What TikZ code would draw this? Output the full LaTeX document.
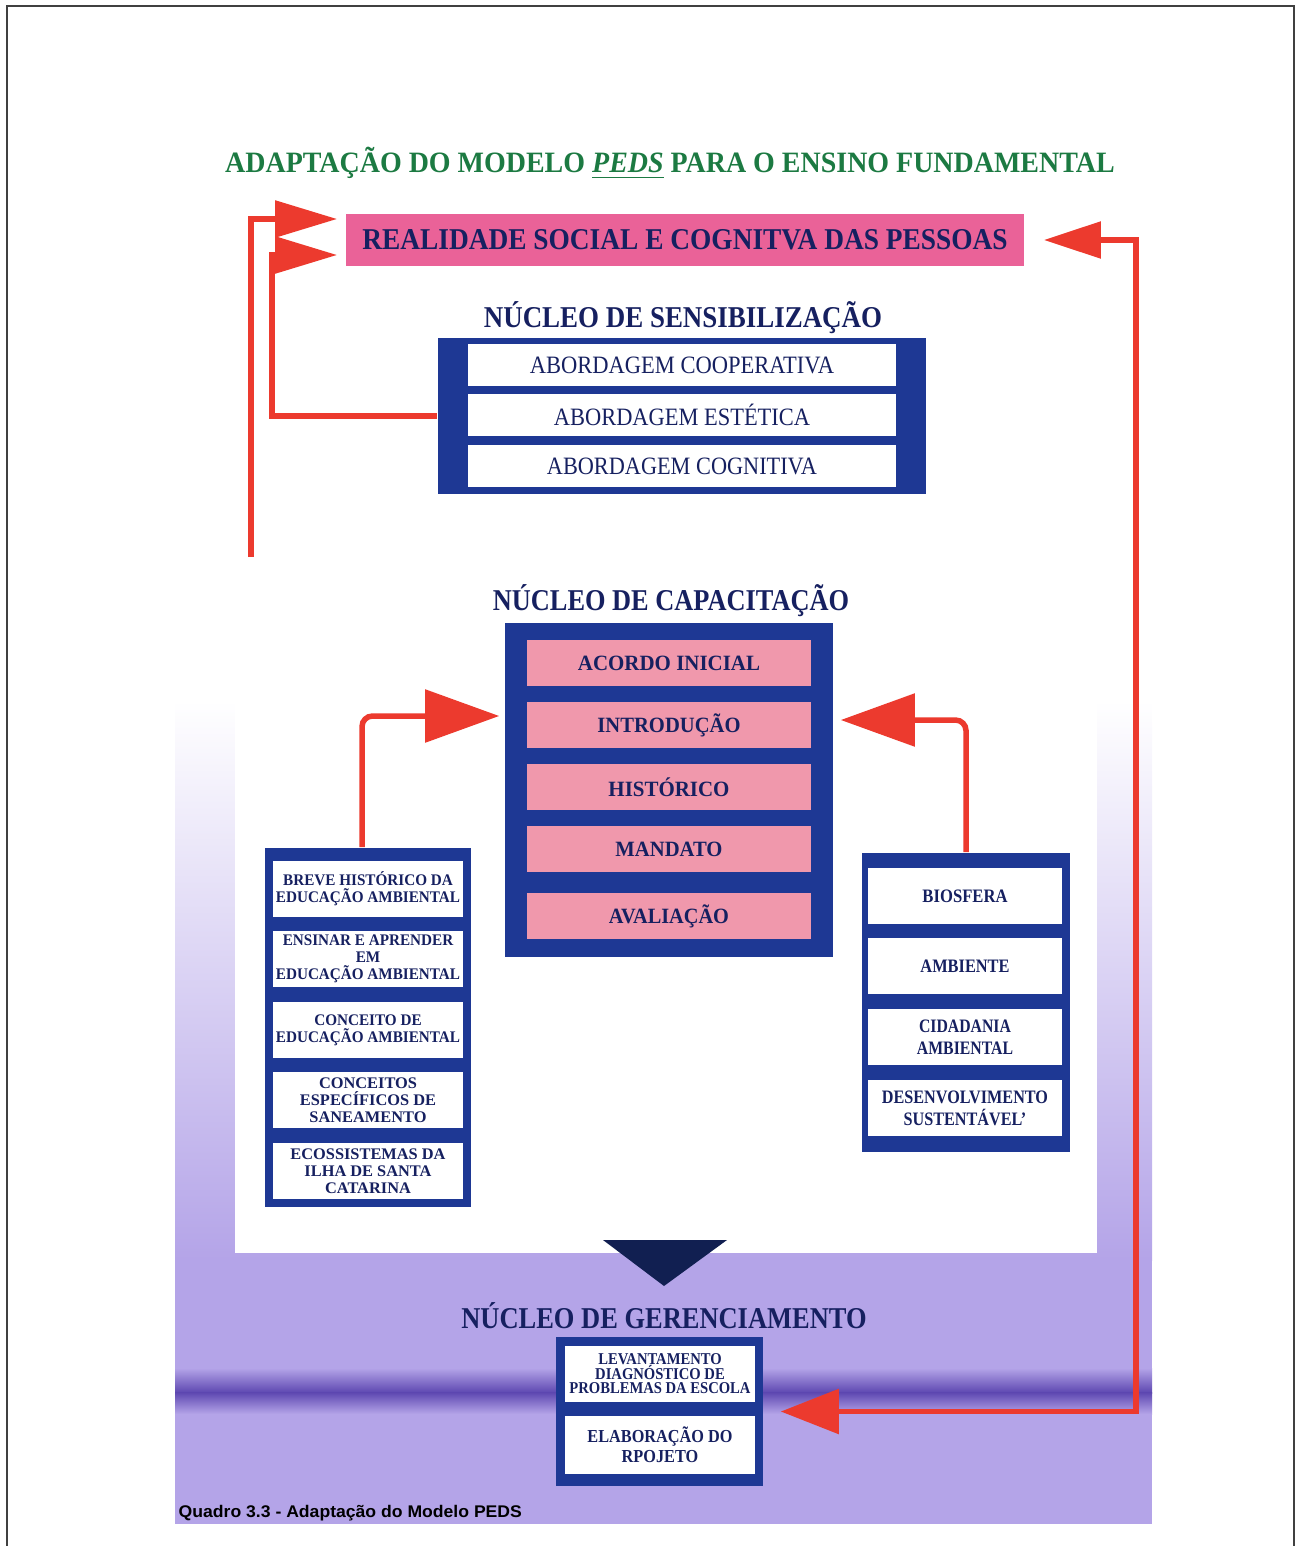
\documentclass[tikz,border=0pt]{standalone}
\usepackage{fontspec}
\setmainfont{Liberation Serif}
\newfontfamily\legendafont{Liberation Sans}
\usetikzlibrary{arrows.meta}

\definecolor{azul}{RGB}{30,56,148}
\definecolor{tinta}{RGB}{22,32,96}
\definecolor{verde}{RGB}{28,122,66}
\definecolor{rosa}{RGB}{234,98,152}
\definecolor{rosaclaro}{RGB}{240,152,172}
\definecolor{vermelho}{RGB}{236,58,46}
\definecolor{lilas}{RGB}{180,164,232}
\definecolor{faixaesc}{RGB}{92,70,176}

% texto ajustado a uma largura dada, altura natural
\newcommand\fitw[2]{\resizebox{#1}{\height}{#2}}
% linhas centradas com entrelinha fixa
\newcommand\pilha[1]{\vbox{\let\\\cr\lineskiplimit=-\maxdimen
  \halign{\hfil##\hfil\cr#1\crcr}}}

\begin{document}
\begin{tikzpicture}[x=0.01cm,y=-0.01cm,
    moldura/.style={fill=azul,inner sep=0pt},
    faixa/.style={fill=white,inner sep=0pt,text=tinta},
    titulo/.style={text=tinta,inner sep=0pt,font=\fontsize{8.6}{10}\selectfont\bfseries},
    linha/.style={draw=vermelho,line width=0.055cm},
    seta/.style={linha,-{Triangle[length=0.62cm,width=0.36cm]}},
    setagrande/.style={linha,rounded corners=3pt,-{Triangle[length=0.74cm,width=0.52cm]}}]
    \useasboundingbox (0,0) rectangle (1297,1546);

    % fundo
    \shade[top color=white,bottom color=lilas] (175,700) rectangle (1152,1260);
    \fill[lilas] (175,1258) rectangle (1152,1524);
    \shade[top color=lilas,bottom color=faixaesc] (175,1368) rectangle (1152,1393);
    \shade[top color=faixaesc,bottom color=lilas] (175,1392) rectangle (1152,1414);
    \fill[white] (235,700) rectangle (1097,1253);
    \draw[black!75,line width=0.5pt] (7,1546) -- (7,6) -- (1294,6) -- (1294,1546);

    \node[text=verde,inner sep=0pt,font=\fontsize{8.4}{10}\selectfont\bfseries] (cabecalho) at (670,163)
        {\fitw{8.89cm}{ADAPTAÇÃO DO MODELO \underline{\textit{PEDS}} PARA O ENSINO FUNDAMENTAL}};
    \node[fill=rosa,minimum width=6.78cm,minimum height=0.52cm,inner sep=0pt,text=tinta,
        font=\fontsize{8.6}{10}\selectfont\bfseries] (realidade) at (685,240)
        {\fitw{6.45cm}{REALIDADE SOCIAL E COGNITVA DAS PESSOAS}};

    % sensibilizacao
    \node[titulo] (nsens) at (683,318) {\fitw{3.98cm}{NÚCLEO DE SENSIBILIZAÇÃO}};
    \node[moldura,minimum width=4.88cm,minimum height=1.56cm] (sens) at (682,416) {};
    \foreach \y/\w/\txt [count=\i] in {365/3.04/ABORDAGEM COOPERATIVA,
        415/2.56/ABORDAGEM ESTÉTICA,466/2.70/ABORDAGEM COGNITIVA}{
        \node[faixa,minimum width=4.28cm,minimum height=0.41cm,
            font=\fontsize{7.1}{8.5}\selectfont] (sens\i) at (682,\y) {\fitw{\w cm}{\txt}};
    }

    % capacitacao
    \node[titulo] (ncap) at (671,601) {\fitw{3.56cm}{NÚCLEO DE CAPACITAÇÃO}};
    \node[moldura,minimum width=3.28cm,minimum height=3.34cm] (cap) at (669,790) {};
    \foreach \y/\w/\txt [count=\i] in {663/1.82/ACORDO INICIAL,725/1.43/INTRODUÇÃO,
        787/1.21/HISTÓRICO,849/1.07/MANDATO,916/1.20/AVALIAÇÃO}{
        \node[faixa,fill=rosaclaro,minimum width=2.84cm,minimum height=0.46cm,
            font=\fontsize{6.2}{7.5}\selectfont\bfseries] (cap\i) at (669,\y) {\fitw{\w cm}{\txt}};
    }

    \node[moldura,minimum width=2.06cm,minimum height=3.59cm] (esq) at (368,1027.5) {};
    \foreach \y/\w/\txt [count=\i] in {889/1.84/BREVE HISTÓRICO DA\\EDUCAÇÃO AMBIENTAL,
        959/1.84/ENSINAR E APRENDER\\EM\\EDUCAÇÃO AMBIENTAL,
        1030/1.84/CONCEITO DE\\EDUCAÇÃO AMBIENTAL,
        1100/1.36/CONCEITOS\\ESPECÍFICOS DE\\SANEAMENTO,
        1171/1.55/ECOSSISTEMAS DA\\ILHA DE SANTA\\CATARINA}{
        \node[faixa,minimum width=1.90cm,minimum height=0.55cm,
            font=\fontsize{4.6}{4.9}\selectfont\bfseries] (esq\i) at (368,\y) {\fitw{\w cm}{\pilha{\txt}}};
    }

    \node[moldura,minimum width=2.08cm,minimum height=2.99cm] (dir) at (966,1002.5) {};
    \foreach \y/\w/\txt [count=\i] in {896/0.85/BIOSFERA,966/0.89/AMBIENTE,
        1037/0.96/CIDADANIA\\AMBIENTAL,1108/1.66/DESENVOLVIMENTO\\SUSTENTÁVEL'}{
        \node[faixa,minimum width=1.94cm,minimum height=0.55cm,
            font=\fontsize{5.4}{6.2}\selectfont\bfseries] (dir\i) at (965,\y) {\fitw{\w cm}{\pilha{\txt}}};
    }

    % gerenciamento
    \fill[azul!55!black] (603,1240) -- (727,1240) -- (664,1286) -- cycle;
    \node[titulo] (nger) at (664,1316) {\fitw{4.05cm}{NÚCLEO DE GERENCIAMENTO}};
    \node[moldura,minimum width=2.07cm,minimum height=1.49cm] (ger) at (659.5,1411.5) {};
    \node[faixa,minimum width=1.90cm,minimum height=0.56cm,font=\fontsize{4.7}{4.1}\selectfont\bfseries]
        (ger1) at (660,1374) {\fitw{1.81cm}{\pilha{LEVANTAMENTO\\DIAGNÓSTICO DE\\PROBLEMAS DA ESCOLA}}};
    \node[faixa,minimum width=1.90cm,minimum height=0.58cm,font=\fontsize{5.2}{5.7}\selectfont\bfseries]
        (ger2) at (660,1445) {\fitw{1.45cm}{\pilha{ELABORAÇÃO DO\\RPOJETO}}};

    % setas
    \coordinate (inicio) at (251,557);
    \draw[seta] (inicio) |- ([shift={(-8,-21)}]realidade.west);
    \draw[seta] (sens.west) -- ++(-165,0) |- ([shift={(-8,15)}]realidade.west);
    \draw[linha,{Triangle[length=0.57cm,width=0.36cm]}-{Triangle[length=0.58cm,width=0.44cm]}]
        ([xshift=0.19cm]realidade.east) -- ++(92,0) |- ([xshift=0.17cm]ger.east);
    \draw[setagrande] ([xshift=-0.06cm]esq.north) |- ([shift={(-5,-74)}]cap.west);
    \draw[setagrande] (dir.north) |- ([shift={(7,-70)}]cap.east);

    \node[anchor=base west,inner sep=0pt,font=\fontsize{4.8}{6}\selectfont\legendafont\bfseries]
        (legenda) at (178,1517) {\fitw{3.43cm}{Quadro 3.3 - Adaptação do Modelo PEDS}};
\end{tikzpicture}
\end{document}
